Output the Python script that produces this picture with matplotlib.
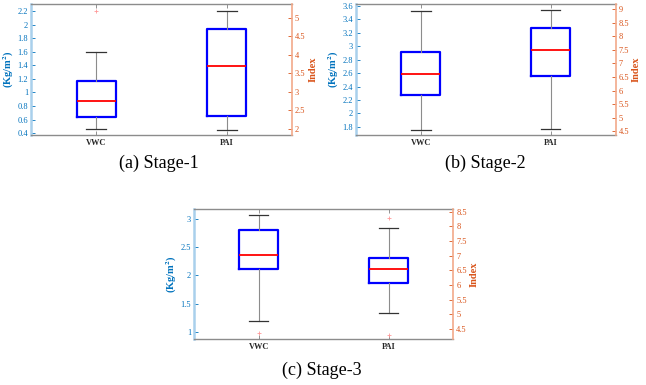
import numpy as np
import matplotlib
matplotlib.use('Agg')
import matplotlib.pyplot as plt
import matplotlib.ticker as ticker

plt.rcParams.update({'font.family': 'Liberation Serif',
                     'mathtext.fontset': 'stix',
                     'font.weight': 'bold'})

# box statistics: [whislo, q1, median, q3, whishi]
categories = ['VWC', 'PAI']
captions = ['(a) Stage-1', '(b) Stage-2', '(c) Stage-3']

vwc_stats = [[0.46, 0.64, 0.88, 1.17, 1.59],
             [1.76, 2.28, 2.58, 2.91, 3.53],
             [1.19, 2.11, 2.36, 2.80, 3.06]]
vwc_fliers = [[2.20], [], [0.98]]
pai_stats = [[1.98, 2.35, 3.69, 4.69, 5.20],
             [4.57, 6.52, 7.48, 8.31, 8.95],
             [5.03, 6.06, 6.56, 6.93, 7.93]]
pai_fliers = [[], [], [8.29, 4.28]]

left_ticks = [np.arange(0.4, 2.21, 0.2), np.arange(1.8, 3.61, 0.2), np.arange(1.0, 3.01, 0.5)]
right_ticks = [np.arange(2.0, 5.01, 0.5), np.arange(4.5, 9.01, 0.5), np.arange(4.5, 8.51, 0.5)]
left_lim = [(0.37, 2.30), (1.677, 3.625), (0.876, 3.17)]
right_lim = [(1.83, 5.37), (4.36, 9.18), (4.15, 8.59)]

blue_txt = '#0072BD'
orange_txt = '#D95319'

fig = plt.figure(figsize=(6.46, 3.85), dpi=100)
rects = [[0.048, 0.649, 0.404, 0.340],
         [0.551, 0.649, 0.402, 0.340],
         [0.300, 0.119, 0.402, 0.338]]
cap_pos = [(0.246, 0.575), (0.751, 0.575), (0.498, 0.038)]


def make_stats(s, fl):
    return [dict(whislo=s[0], q1=s[1], med=s[2], q3=s[3], whishi=s[4], fliers=fl)]


for i in range(3):
    ax = fig.add_axes(rects[i])
    ax2 = ax.twinx()
    kw = dict(widths=0.3, capwidths=0.15, manage_ticks=False, showfliers=True,
              boxprops=dict(color='blue', lw=1.6),
              medianprops=dict(color='red', lw=1.3),
              whiskerprops=dict(color='#8c8c8c', lw=0.8),
              capprops=dict(color='#333333', lw=0.9),
              flierprops=dict(marker='+', markeredgecolor='#ff9999', ms=3, mew=0.6))
    ax.bxp(make_stats(vwc_stats[i], vwc_fliers[i]), positions=[1], **kw)
    ax2.bxp(make_stats(pai_stats[i], pai_fliers[i]), positions=[2], **kw)

    ax.set_xlim(0.5, 2.5)
    ax.set_xticks([1, 2])
    ax.set_xticklabels(categories, fontsize=6, fontweight='bold', color='#262626')
    ax.set_ylim(left_lim[i])
    ax2.set_ylim(right_lim[i])
    ax.set_yticks(left_ticks[i])
    ax2.set_yticks(right_ticks[i])
    ax.yaxis.set_major_formatter(ticker.FormatStrFormatter('%g'))
    ax2.yaxis.set_major_formatter(ticker.FormatStrFormatter('%g'))

    ax.tick_params(axis='x', direction='in', top=True, length=3, width=0.6,
                   color='#808080', pad=3)
    ax.tick_params(axis='y', direction='in', length=3, width=0.6, color=blue_txt,
                   labelcolor=blue_txt, labelsize=6, pad=2)
    ax2.tick_params(axis='y', direction='in', length=3, width=0.6, color=orange_txt,
                    labelcolor=orange_txt, labelsize=6, pad=2)
    for lab in ax.get_yticklabels() + ax2.get_yticklabels():
        lab.set_fontweight('normal')

    for sp in ['top', 'bottom']:
        ax.spines[sp].set_color('#8c8c8c')
        ax.spines[sp].set_linewidth(1.0)
        ax2.spines[sp].set_visible(False)
    ax.spines['left'].set_color('#a9d0ec')
    ax.spines['left'].set_linewidth(1.8)
    ax2.spines['left'].set_visible(False)
    ax.spines['right'].set_visible(False)
    ax2.spines['right'].set_color('#f2a98a')
    ax2.spines['right'].set_linewidth(1.2)

    ax.set_ylabel(r'(Kg/m$^{\mathbf{2}}$)', color=blue_txt, fontsize=7.5,
                  fontweight='bold', labelpad=1)
    ax2.set_ylabel('Index', color=orange_txt, fontsize=7.5, fontweight='bold',
                   labelpad=2)

    fig.text(cap_pos[i][0], cap_pos[i][1], captions[i], ha='center', va='center',
             fontsize=13, fontweight='normal', color='black')

plt.savefig('out.png', dpi=100)
